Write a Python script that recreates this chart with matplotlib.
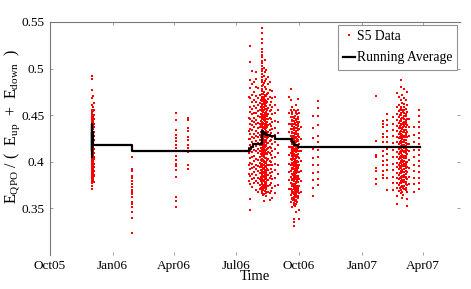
import matplotlib
matplotlib.use("Agg")
import matplotlib.pyplot as plt
import matplotlib.dates as mdates
import pandas as pd

plt.rcParams['font.family'] = ['Liberation Serif', 'DejaVu Serif']
plt.rcParams['mathtext.fontset'] = 'custom'
plt.rcParams['mathtext.rm'] = 'Liberation Serif'
plt.rcParams['mathtext.it'] = 'Liberation Serif:italic'

# S5 data: one list of E_QPO/(E_up+E_down) values per observation day
dec05_days = ["2005-12-01", "2005-12-02", "2005-12-02", "2005-12-03", "2005-12-03",
              "2005-12-04", "2005-12-05"]
dec05_vals = [
    [0.492, 0.489, 0.477, 0.461, 0.452, 0.447, 0.443, 0.438, 0.434, 0.431, 0.426, 0.421,
     0.417, 0.412, 0.408, 0.404, 0.399, 0.395, 0.391, 0.387, 0.384, 0.381, 0.377, 0.371],
    [0.468, 0.456, 0.451, 0.448, 0.444, 0.440, 0.436, 0.433, 0.429, 0.424, 0.419, 0.415,
     0.410, 0.406, 0.402, 0.397, 0.393, 0.389, 0.386, 0.382, 0.379, 0.374],
    [0.454, 0.450, 0.446, 0.442, 0.438, 0.431, 0.427, 0.422, 0.417, 0.413, 0.408, 0.404,
     0.400, 0.395, 0.391, 0.387, 0.384, 0.378],
    [0.471, 0.459, 0.454, 0.449, 0.445, 0.439, 0.435, 0.430, 0.425, 0.420, 0.416, 0.411,
     0.407, 0.401, 0.396, 0.392, 0.388, 0.383, 0.380],
    [0.456, 0.447, 0.443, 0.436, 0.432, 0.427, 0.423, 0.418, 0.414, 0.409, 0.405, 0.399,
     0.394, 0.390, 0.385, 0.381],
    [0.463, 0.455, 0.450, 0.441, 0.437, 0.428, 0.423, 0.414, 0.409, 0.403, 0.398, 0.390,
     0.385, 0.378],
    [0.446, 0.432, 0.418, 0.405, 0.394, 0.386],
]

jan06_days = ["2006-01-29"]
jan06_vals = [
    [0.405, 0.392, 0.390, 0.385, 0.383, 0.379, 0.376, 0.373, 0.370, 0.368, 0.365, 0.362,
     0.357, 0.355, 0.351, 0.346, 0.340, 0.324],
]

apr06_days = ["2006-04-03", "2006-04-22"]
apr06_vals = [
    [0.452, 0.445, 0.434, 0.429, 0.425, 0.422, 0.418, 0.415, 0.411, 0.406, 0.402, 0.398,
     0.395, 0.391, 0.384, 0.362, 0.358, 0.351],
    [0.447, 0.445, 0.436, 0.433, 0.427, 0.423, 0.418, 0.415, 0.410, 0.397, 0.392],
]

aug06_days = ["2006-07-19", "2006-07-21", "2006-07-24", "2006-07-27", "2006-07-30",
              "2006-08-02", "2006-08-05", "2006-08-07", "2006-08-08", "2006-08-10",
              "2006-08-12", "2006-08-14", "2006-08-17", "2006-08-19", "2006-08-23",
              "2006-08-27", "2006-08-31", "2006-08-06", "2006-08-09", "2006-08-11",
              "2006-08-13", "2006-08-15", "2006-08-21"]
aug06_vals = [
    [0.469, 0.447, 0.433, 0.424, 0.415, 0.409, 0.396, 0.387, 0.379],
    [0.524, 0.507, 0.488, 0.479, 0.468, 0.459, 0.453, 0.446, 0.441, 0.435, 0.430, 0.424,
     0.418, 0.412, 0.404, 0.399, 0.392, 0.385, 0.376, 0.360, 0.348],
    [0.497, 0.483, 0.472, 0.464, 0.457, 0.451, 0.444, 0.439, 0.434, 0.427, 0.421, 0.416,
     0.410, 0.405, 0.398, 0.393, 0.387, 0.381, 0.373],
    [0.486, 0.475, 0.466, 0.460, 0.452, 0.447, 0.443, 0.437, 0.430, 0.425, 0.419, 0.413,
     0.406, 0.401, 0.394, 0.389, 0.383, 0.377],
    [0.496, 0.489, 0.480, 0.471, 0.464, 0.458, 0.452, 0.445, 0.440, 0.433, 0.428, 0.422,
     0.417, 0.411, 0.403, 0.397, 0.392, 0.386, 0.379, 0.370],
    [0.479, 0.468, 0.461, 0.454, 0.449, 0.442, 0.436, 0.431, 0.427, 0.420, 0.414, 0.409,
     0.402, 0.395, 0.390, 0.383, 0.377, 0.368],
    [0.472, 0.463, 0.456, 0.448, 0.441, 0.437, 0.429, 0.423, 0.418, 0.412, 0.405, 0.399,
     0.394, 0.388, 0.381, 0.375, 0.371],
    [0.543, 0.538, 0.532, 0.527, 0.521, 0.518, 0.512, 0.508, 0.503, 0.499, 0.494, 0.491,
     0.486, 0.481, 0.478, 0.473, 0.469, 0.465, 0.461, 0.457, 0.454, 0.449, 0.446, 0.441,
     0.437, 0.434, 0.429, 0.425, 0.421, 0.418, 0.413, 0.409, 0.406, 0.401, 0.397, 0.394,
     0.389, 0.385, 0.381, 0.378, 0.373, 0.369, 0.366],
    [0.515, 0.506, 0.497, 0.488, 0.476, 0.467, 0.462, 0.456, 0.451, 0.447, 0.443, 0.438,
     0.433, 0.428, 0.424, 0.419, 0.415, 0.411, 0.407, 0.403, 0.398, 0.395, 0.391, 0.387,
     0.383, 0.379, 0.376, 0.371, 0.368],
    [0.501, 0.492, 0.484, 0.475, 0.470, 0.464, 0.459, 0.455, 0.450, 0.445, 0.440, 0.436,
     0.432, 0.427, 0.422, 0.417, 0.414, 0.410, 0.405, 0.400, 0.396, 0.392, 0.388, 0.384,
     0.380, 0.375, 0.372, 0.365, 0.358],
    [0.509, 0.496, 0.487, 0.480, 0.472, 0.466, 0.461, 0.457, 0.452, 0.448, 0.444, 0.439,
     0.435, 0.430, 0.426, 0.421, 0.416, 0.412, 0.408, 0.404, 0.399, 0.395, 0.390, 0.386,
     0.382, 0.377, 0.374, 0.369],
    [0.498, 0.489, 0.478, 0.471, 0.465, 0.460, 0.453, 0.449, 0.442, 0.438, 0.433, 0.428,
     0.423, 0.418, 0.413, 0.409, 0.404, 0.399, 0.394, 0.389, 0.385, 0.381, 0.376, 0.371,
     0.363],
    [0.491, 0.483, 0.474, 0.467, 0.458, 0.451, 0.446, 0.439, 0.432, 0.426, 0.420, 0.415,
     0.410, 0.403, 0.397, 0.391, 0.386, 0.380, 0.374, 0.368],
    [0.486, 0.477, 0.469, 0.461, 0.454, 0.447, 0.440, 0.434, 0.429, 0.422, 0.416, 0.409,
     0.401, 0.396, 0.388, 0.382, 0.375, 0.366, 0.359],
    [0.476, 0.468, 0.459, 0.451, 0.443, 0.435, 0.427, 0.419, 0.412, 0.404, 0.397, 0.389,
     0.381, 0.372, 0.361],
    [0.469, 0.461, 0.452, 0.444, 0.436, 0.429, 0.421, 0.414, 0.405, 0.398, 0.391, 0.382,
     0.374, 0.366],
    [0.455, 0.443, 0.431, 0.418, 0.409, 0.396, 0.387, 0.375],
    [0.466, 0.459, 0.451, 0.444, 0.439, 0.432, 0.426, 0.420, 0.415, 0.408, 0.402, 0.397,
     0.391, 0.384, 0.379, 0.372],
    [0.482, 0.473, 0.466, 0.459, 0.453, 0.448, 0.442, 0.436, 0.430, 0.425, 0.420, 0.416,
     0.412, 0.408, 0.402, 0.397, 0.393, 0.389, 0.384, 0.380, 0.375, 0.370, 0.364],
    [0.468, 0.462, 0.456, 0.450, 0.446, 0.441, 0.437, 0.432, 0.428, 0.423, 0.419, 0.414,
     0.410, 0.406, 0.401, 0.397, 0.393, 0.389, 0.385, 0.379, 0.373],
    [0.471, 0.463, 0.457, 0.451, 0.446, 0.441, 0.436, 0.431, 0.427, 0.422, 0.417, 0.413,
     0.409, 0.404, 0.400, 0.395, 0.391, 0.387, 0.382, 0.378, 0.372, 0.366],
    [0.473, 0.464, 0.456, 0.449, 0.443, 0.437, 0.431, 0.425, 0.420, 0.414, 0.408, 0.402,
     0.397, 0.392, 0.386, 0.380, 0.374, 0.367],
    [0.464, 0.455, 0.446, 0.438, 0.431, 0.423, 0.415, 0.407, 0.400, 0.392, 0.385, 0.377,
     0.369],
]

oct06_days = ["2006-09-16", "2006-09-19", "2006-09-21", "2006-09-23", "2006-09-25",
              "2006-09-27", "2006-09-29", "2006-10-01", "2006-10-04", "2006-10-22",
              "2006-10-29", "2006-09-20", "2006-09-22", "2006-09-24", "2006-09-26",
              "2006-09-28", "2006-09-30"]
oct06_vals = [
    [0.469, 0.452, 0.441, 0.432, 0.424, 0.416, 0.407, 0.398, 0.389, 0.380, 0.371],
    [0.478, 0.466, 0.456, 0.448, 0.441, 0.435, 0.428, 0.422, 0.416, 0.409, 0.403, 0.396,
     0.390, 0.384, 0.377, 0.371, 0.364, 0.357],
    [0.459, 0.451, 0.444, 0.438, 0.431, 0.426, 0.420, 0.414, 0.408, 0.402, 0.397, 0.392,
     0.387, 0.381, 0.376, 0.370, 0.366, 0.360, 0.351],
    [0.455, 0.447, 0.440, 0.434, 0.428, 0.423, 0.417, 0.411, 0.406, 0.400, 0.395, 0.389,
     0.384, 0.379, 0.373, 0.368, 0.362, 0.356, 0.339, 0.331],
    [0.449, 0.442, 0.436, 0.430, 0.425, 0.419, 0.413, 0.407, 0.402, 0.397, 0.391, 0.386,
     0.381, 0.375, 0.369, 0.364, 0.358, 0.352],
    [0.461, 0.452, 0.445, 0.439, 0.432, 0.427, 0.421, 0.415, 0.410, 0.404, 0.398, 0.393,
     0.388, 0.382, 0.377, 0.371, 0.365, 0.359, 0.346],
    [0.467, 0.456, 0.448, 0.441, 0.434, 0.428, 0.422, 0.417, 0.411, 0.405, 0.400, 0.394,
     0.389, 0.383, 0.378, 0.372, 0.367, 0.361],
    [0.452, 0.443, 0.435, 0.426, 0.419, 0.412, 0.404, 0.396, 0.389, 0.381, 0.374, 0.366,
     0.348, 0.339],
    [0.437, 0.424, 0.412, 0.401, 0.390, 0.379, 0.368],
    [0.449, 0.436, 0.425, 0.414, 0.404, 0.396, 0.388, 0.380, 0.372, 0.363],
    [0.465, 0.458, 0.449, 0.439, 0.428, 0.421, 0.413, 0.405, 0.397, 0.389, 0.381, 0.375],
    [0.453, 0.445, 0.438, 0.432, 0.425, 0.419, 0.412, 0.406, 0.399, 0.393, 0.387, 0.380,
     0.374, 0.368, 0.361],
    [0.448, 0.441, 0.435, 0.428, 0.421, 0.416, 0.410, 0.404, 0.398, 0.393, 0.386, 0.380,
     0.374, 0.367, 0.359],
    [0.444, 0.437, 0.431, 0.425, 0.420, 0.414, 0.408, 0.403, 0.398, 0.392, 0.387, 0.382,
     0.376, 0.371, 0.365, 0.360, 0.354, 0.335],
    [0.454, 0.446, 0.439, 0.433, 0.427, 0.422, 0.416, 0.411, 0.405, 0.400, 0.394, 0.389,
     0.384, 0.378, 0.373, 0.367, 0.362, 0.355],
    [0.451, 0.443, 0.436, 0.430, 0.424, 0.418, 0.413, 0.407, 0.401, 0.396, 0.391, 0.385,
     0.380, 0.374, 0.369, 0.363, 0.357],
    [0.446, 0.438, 0.430, 0.423, 0.415, 0.408, 0.400, 0.393, 0.385, 0.378, 0.370, 0.363],
]

mar07_days = ["2007-01-22", "2007-02-01", "2007-02-07", "2007-02-16", "2007-02-22",
              "2007-02-25", "2007-02-27", "2007-03-01", "2007-03-03", "2007-03-06",
              "2007-03-08", "2007-03-11", "2007-03-18", "2007-03-26", "2007-02-26",
              "2007-02-28", "2007-03-02", "2007-03-04", "2007-03-07"]
mar07_vals = [
    [0.471, 0.422, 0.407, 0.405, 0.393, 0.390, 0.381, 0.376],
    [0.444, 0.440, 0.437, 0.430, 0.426, 0.421, 0.416, 0.411, 0.406, 0.401, 0.396, 0.390,
     0.386, 0.383],
    [0.451, 0.445, 0.439, 0.433, 0.427, 0.421, 0.414, 0.408, 0.402, 0.396, 0.391, 0.383,
     0.370],
    [0.448, 0.441, 0.434, 0.428, 0.420, 0.413, 0.405, 0.398, 0.391, 0.384, 0.377, 0.370],
    [0.474, 0.459, 0.451, 0.445, 0.438, 0.433, 0.427, 0.421, 0.416, 0.410, 0.405, 0.399,
     0.394, 0.388, 0.383, 0.377, 0.372, 0.363, 0.355],
    [0.469, 0.461, 0.454, 0.448, 0.442, 0.436, 0.430, 0.425, 0.419, 0.414, 0.408, 0.403,
     0.397, 0.392, 0.386, 0.381, 0.375, 0.369],
    [0.488, 0.480, 0.466, 0.457, 0.450, 0.444, 0.439, 0.433, 0.428, 0.422, 0.417, 0.412,
     0.406, 0.401, 0.395, 0.390, 0.384, 0.379, 0.373, 0.366],
    [0.472, 0.463, 0.455, 0.447, 0.441, 0.435, 0.429, 0.424, 0.418, 0.413, 0.407, 0.402,
     0.396, 0.391, 0.385, 0.380, 0.374, 0.368, 0.361],
    [0.478, 0.468, 0.459, 0.452, 0.446, 0.440, 0.434, 0.428, 0.423, 0.418, 0.412, 0.406,
     0.401, 0.395, 0.389, 0.384, 0.378, 0.371],
    [0.466, 0.457, 0.449, 0.443, 0.437, 0.431, 0.426, 0.420, 0.414, 0.409, 0.404, 0.398,
     0.393, 0.387, 0.382, 0.376, 0.370],
    [0.475, 0.461, 0.453, 0.446, 0.439, 0.432, 0.427, 0.419, 0.413, 0.408, 0.400, 0.394,
     0.389, 0.381, 0.375, 0.368, 0.360, 0.352],
    [0.446, 0.437, 0.428, 0.419, 0.411, 0.402, 0.393, 0.384, 0.376],
    [0.437, 0.429, 0.421, 0.413, 0.405, 0.397, 0.390, 0.383, 0.376, 0.368],
    [0.455, 0.449, 0.443, 0.437, 0.431, 0.425, 0.419, 0.413, 0.407, 0.401, 0.395, 0.389,
     0.383, 0.377, 0.371],
    [0.456, 0.450, 0.444, 0.438, 0.432, 0.427, 0.421, 0.416, 0.410, 0.405, 0.399, 0.394,
     0.388, 0.383, 0.377, 0.372],
    [0.459, 0.452, 0.446, 0.441, 0.436, 0.430, 0.425, 0.420, 0.415, 0.409, 0.404, 0.399,
     0.393, 0.388, 0.382, 0.377, 0.370],
    [0.453, 0.447, 0.442, 0.437, 0.432, 0.426, 0.421, 0.416, 0.411, 0.405, 0.400, 0.395,
     0.389, 0.384, 0.378, 0.372, 0.364],
    [0.462, 0.455, 0.449, 0.443, 0.438, 0.432, 0.426, 0.421, 0.415, 0.410, 0.404, 0.398,
     0.392, 0.386, 0.380, 0.374],
    [0.451, 0.445, 0.440, 0.434, 0.429, 0.423, 0.417, 0.411, 0.406, 0.400, 0.395, 0.390,
     0.384, 0.378, 0.372],
]

# running average (step changes)
avg_times = ["2005-12-01 00:00", "2005-12-01 08:00", "2005-12-01 16:00", "2005-12-02 00:00",
             "2005-12-02 12:00", "2005-12-03 00:00", "2006-01-29 00:00", "2006-07-19 00:00",
             "2006-07-22 00:00", "2006-07-25 00:00", "2006-08-07 00:00", "2006-08-09 00:00",
             "2006-08-11 00:00", "2006-08-14 00:00", "2006-08-17 00:00", "2006-08-20 00:00",
             "2006-08-26 00:00", "2006-09-20 00:00", "2006-09-24 00:00", "2006-09-29 00:00",
             "2007-03-27 00:00"]
avg_vals = [0.405, 0.441, 0.412, 0.432, 0.422, 0.418, 0.411, 0.4135, 0.4163, 0.4195,
            0.4327, 0.4295, 0.4312, 0.4285, 0.4290, 0.4277, 0.4245, 0.4210, 0.4180,
            0.4163, 0.4163]

xs, ys = [], []
for days, vals in [(dec05_days, dec05_vals), (jan06_days, jan06_vals),
                   (apr06_days, apr06_vals), (aug06_days, aug06_vals),
                   (oct06_days, oct06_vals), (mar07_days, mar07_vals)]:
    for d, v in zip(days, vals):
        xs += [pd.Timestamp(d)] * len(v)
        ys += v

fig = plt.figure(figsize=(4.71, 2.89), dpi=100)
ax = fig.add_axes([0.106, 0.118, 0.871, 0.806])

ax.plot(xs, ys, 's', color='red', markersize=1.7, markeredgewidth=0, label='S5 Data')
ax.plot(pd.to_datetime(avg_times, format='mixed'), avg_vals, '-', color='black',
        linewidth=1.6, drawstyle='steps-post', label='Running Average')

ax.set_xlim(pd.Timestamp("2005-10-01"), pd.Timestamp("2007-05-25"))
ax.set_ylim(0.3, 0.55)
ax.set_yticks([0.35, 0.4, 0.45, 0.5, 0.55])
ax.set_yticklabels(['0.35', '0.4', '0.45', '0.5', '0.55'])
ticks = pd.to_datetime(["2005-10-01", "2006-01-01", "2006-04-01", "2006-07-01",
                        "2006-10-01", "2007-01-01", "2007-04-01"])
ax.set_xticks(ticks)
ax.xaxis.set_major_formatter(mdates.DateFormatter('%b%y'))
ax.tick_params(direction='in', length=2.5, width=0.5, color='#777777',
               labelsize=9.5, top=True, right=True, pad=4)

for s in ['left', 'top']:
    ax.spines[s].set_color('#777777')
    ax.spines[s].set_linewidth(0.8)
for s in ['right', 'bottom']:
    ax.spines[s].set_visible(False)

ax.set_xlabel('Time', fontsize=10.5, labelpad=-2)
ax.set_ylabel(r'$\mathrm{E_{QPO}}$ / (  $\mathrm{E_{up}}$  +  $\mathrm{E_{down}}$  )',
              fontsize=11.5, labelpad=0)
ax.yaxis.set_label_coords(-0.068, 0.55)

leg = ax.legend(loc='upper right', fontsize=9.8, frameon=True, fancybox=False,
                handlelength=0.9, handletextpad=0.1, borderaxespad=0.2,
                borderpad=0.4, markerscale=1.0, labelspacing=0.6)
leg.get_frame().set_edgecolor('#777777')
leg.get_frame().set_linewidth(0.8)

fig.savefig('out.png', dpi=100)
